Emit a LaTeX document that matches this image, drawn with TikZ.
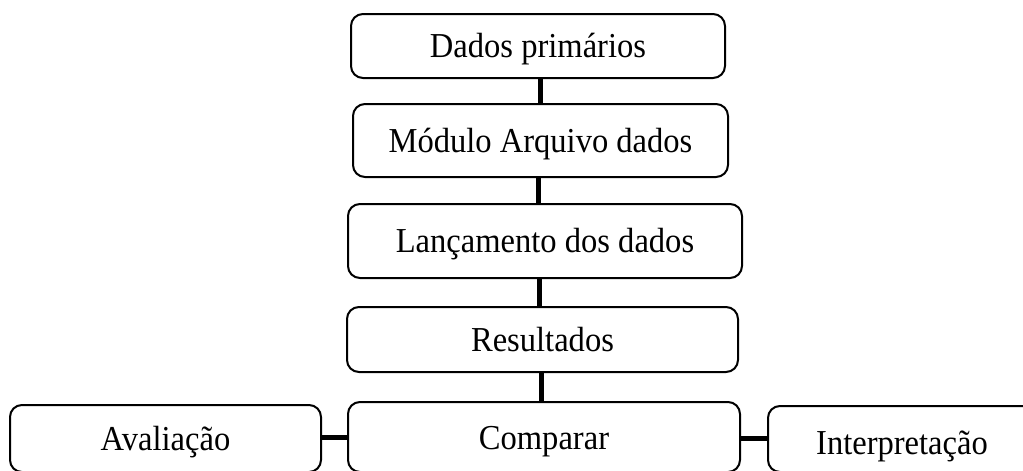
\documentclass[tikz,border=0pt]{standalone}
\usepackage{fontspec}
\setmainfont{Liberation Serif}[FakeStretch=0.93]
\begin{document}
\begin{tikzpicture}[x=1pt,y=-1pt,
  box/.style={draw, line width=2pt, rounded corners=12pt, inner sep=0pt,
    font=\fontsize{35}{42}\selectfont, text height=23pt, text depth=0pt},
  link/.style={line width=5pt}]
\useasboundingbox (0,0) rectangle (1023,471);
\clip (0,0) rectangle (1023,471);
\node[box, minimum width=374pt, minimum height=64pt] (dados) at (538,46) {Dados primários};
\node[box, minimum width=375pt, minimum height=73pt] (modulo) at (540.5,140.5) {Módulo Arquivo dados};
\node[box, minimum width=394pt, minimum height=74pt] (lanc) at (545,241) {Lançamento dos dados};
\node[box, minimum width=391pt, minimum height=65pt] (result) at (542.5,339.5) {Resultados};
\node[box, minimum width=311pt, minimum height=67pt, text height=24pt] (aval) at (165.5,438.5) {Avaliação};
\node[box, minimum width=392pt, minimum height=70pt, text height=24pt] (comp) at (544,437) {Comparar};
\node[box, minimum width=268pt, minimum height=66pt, text height=30pt] (interp) at (902,439) {Interpretação};
\draw[link] ([xshift=2pt]dados.south) -- ([xshift=2pt]dados.south |- modulo.north);
\draw[link] ([xshift=-2.5pt]modulo.south) -- ([xshift=-2.5pt]modulo.south |- lanc.north);
\draw[link] ([xshift=-6pt]lanc.south) -- ([xshift=-6pt]lanc.south |- result.north);
\draw[link] ([xshift=-1.5pt]result.south) -- ([xshift=-1.5pt]result.south |- comp.north);
\draw[link] ([yshift=1.5pt]aval.east) -- ([yshift=1.5pt]aval.east -| comp.west);
\draw[link] ([yshift=-1pt]comp.east) -- ([yshift=-1pt]comp.east -| interp.west);
\end{tikzpicture}
\end{document}
